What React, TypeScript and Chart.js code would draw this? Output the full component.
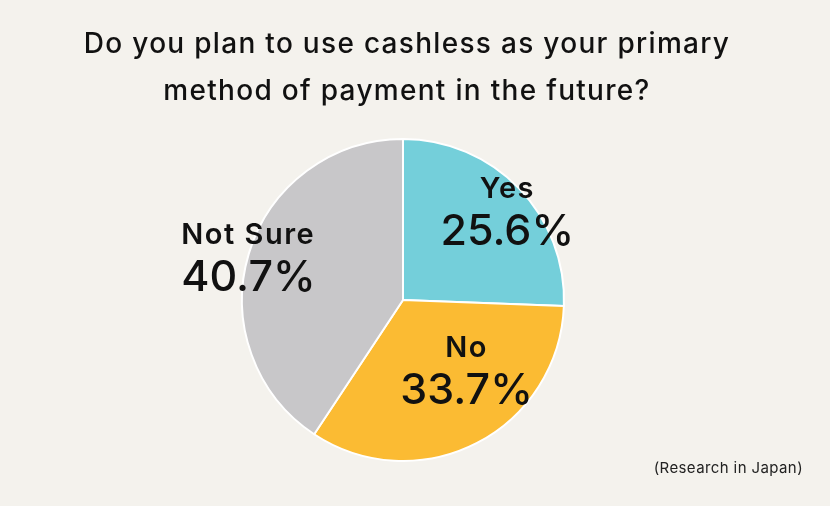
import React, { useEffect, useRef } from "react";
import { Chart, registerables } from "chart.js";

Chart.register(...registerables);

const titleLines = ["Do you plan to use cashless as your primary", "method of payment in the future?"];
const categories = ["Yes", "No", "Not Sure"];
const values = [25.6, 33.7, 40.7];
const colors = ["#74CFDA", "#FBBB33", "#C8C7C9"];
const note = "(Research in Japan)";
// label anchor offsets relative to pie center, in units of radius
const labelOffsets = [
  [0.648, -0.55],
  [0.395, 0.435],
  [-1.377, -0.265],
];
const labelAlign: CanvasTextAlign[] = ["center", "center", "left"];

const BG = "#F4F2ED";
const FONT = "Inter, 'Noto Sans', sans-serif";

const textPlugin = {
  id: "textPlugin",
  afterDraw(chart: any) {
    const ctx = chart.ctx as any;
    const meta = chart.getDatasetMeta(0);
    const arc0 = meta.data[0] as any;
    const cx = arc0.x;
    const cy = arc0.y;
    const r = arc0.outerRadius;
    ctx.save();
    ctx.fillStyle = "#111111";
    // title
    ctx.textBaseline = "alphabetic";
    ctx.textAlign = "center";
    ctx.font = `500 28px ${FONT}`;
    ctx.letterSpacing = "1.3px";
    titleLines.forEach((line: string, i: number) => {
      ctx.fillText(line, 407, 53 + i * 47);
    });
    // slice labels
    ctx.textBaseline = "middle";
    categories.forEach((cat, i) => {
      const [ox, oy] = labelOffsets[i];
      const x = cx + ox * r;
      const y = cy + oy * r;
      ctx.textAlign = labelAlign[i];
      ctx.font = `600 29px ${FONT}`;
      ctx.letterSpacing = "1.5px";
      ctx.fillText(cat, x, y - 22);
      ctx.font = `500 43px ${FONT}`;
      ctx.letterSpacing = "0px";
      ctx.fillText(`${values[i].toFixed(1)}%`, x, y + 21);
    });
    // note
    ctx.textAlign = "right";
    ctx.font = `400 15px ${FONT}`;
    ctx.letterSpacing = "0.4px";
    ctx.fillStyle = "#222222";
    ctx.fillText(note, 803, 468);
    ctx.restore();
  },
};

export default function App() {
  const ref = useRef<HTMLCanvasElement | null>(null);
  useEffect(() => {
    document.body.style.margin = "0";
    document.body.style.background = BG;
    const chart = new Chart(ref.current!, {
      type: "pie",
      data: {
        labels: categories,
        datasets: [
          {
            data: values,
            backgroundColor: colors,
            borderColor: "#FFFFFF",
            borderWidth: 2,
          },
        ],
      },
      options: {
        animation: false,
        responsive: false,
        maintainAspectRatio: false,
        layout: { padding: { top: 138, bottom: 44, left: 241, right: 265 } },
        plugins: {
          legend: { display: false },
          tooltip: { enabled: false },
          title: { display: false },
        },
      },
      plugins: [textPlugin],
    });
    return () => chart.destroy();
  }, []);
  return (
    <div style={{ width: 830, height: 506, background: BG }}>
      <canvas ref={ref} width={830} height={506} style={{ display: "block" }} />
    </div>
  );
}
